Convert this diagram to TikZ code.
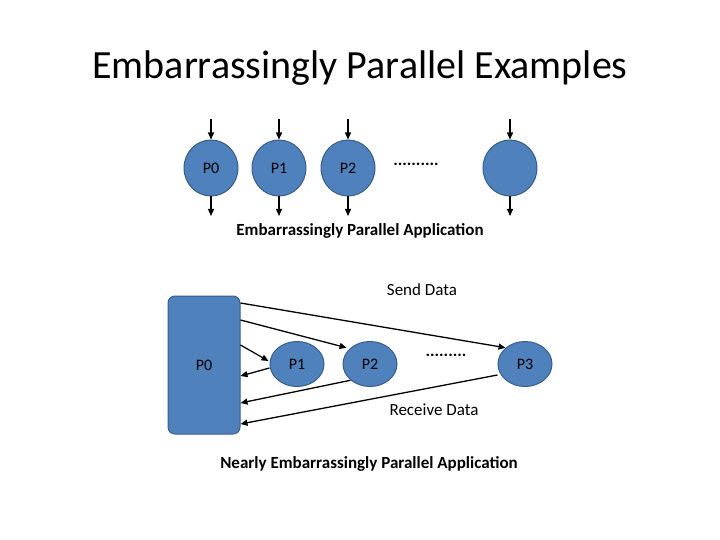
\documentclass[tikz,border=0pt]{standalone}
\usepackage{fontspec}
\setmainfont{Carlito}
\usetikzlibrary{arrows.meta,shapes.geometric}
\definecolor{bfill}{HTML}{4F81BD}
\definecolor{bline}{HTML}{385D8A}
\begin{document}
\begin{tikzpicture}[x=1pt,y=-1pt,
  proc/.style={ellipse,draw=bline,line width=1pt,fill=bfill,minimum width=54pt,minimum height=56pt,inner sep=0pt,font=\fontsize{16}{18}\selectfont},
  procs/.style={proc,minimum height=45pt},
  arr/.style={-{Triangle[length=7pt,width=6pt]},line width=1.3pt},
  lbl/.style={font=\fontsize{17}{20}\selectfont}]
\useasboundingbox (0,0) rectangle (720,540);
\node[font=\fontsize{40}{46}\selectfont] (title) at (360,68) {Embarrassingly Parallel Examples};
\foreach \n/\x/\t in {a/211/P0,b/279/P1,c/348/P2,d/510/{}}{
  \node[proc] (\n) at (\x,168) {\t};
  \coordinate (\n t) at (\x,119);
  \coordinate (\n b) at (\x,216);
  \draw[arr] (\n t) -- (\n.north);
  \draw[arr] (\n.south) -- (\n b);
}
\node[lbl] (dots1) at (416,164) {\textbf{..........}};
\node[font=\bfseries\fontsize{17}{20}\selectfont] (app1) at (360,231) {Embarrassingly Parallel Application};
\node[draw=bline,line width=1pt,fill=bfill,rounded corners=7pt,minimum width=72pt,minimum height=138pt,inner sep=0pt,font=\fontsize{16}{18}\selectfont] (q0) at (204,365) {P0};
\node[procs] (q1) at (297,364) {P1};
\node[procs] (q2) at (370,364) {P2};
\node[procs] (q3) at (525,364) {P3};
\node[lbl] (dots2) at (446,355) {\textbf{.........}};
\node[lbl] (send) at (422,290) {Send Data};
\node[lbl] (recv) at (434,410) {Receive Data};
\node[font=\bfseries\fontsize{17}{20}\selectfont] (app2) at (369,464) {Nearly Embarrassingly Parallel Application};
\draw[arr] ([yshift=62pt]q0.east) -- (q3.north west);
\draw[arr] ([yshift=45pt]q0.east) -- ([xshift=-4pt]q2.north west);
\draw[arr] ([yshift=20pt]q0.east) -- ([xshift=-1pt,yshift=3pt]q1.west);
\draw[arr] ([yshift=-4pt]q1.west) -- ([yshift=-11pt]q0.east);
\draw[arr] (q2.south west) -- ([yshift=-38pt]q0.east);
\draw[arr] ([yshift=-11pt]q3.west) -- ([yshift=-59pt]q0.east);
\end{tikzpicture}
\end{document}
